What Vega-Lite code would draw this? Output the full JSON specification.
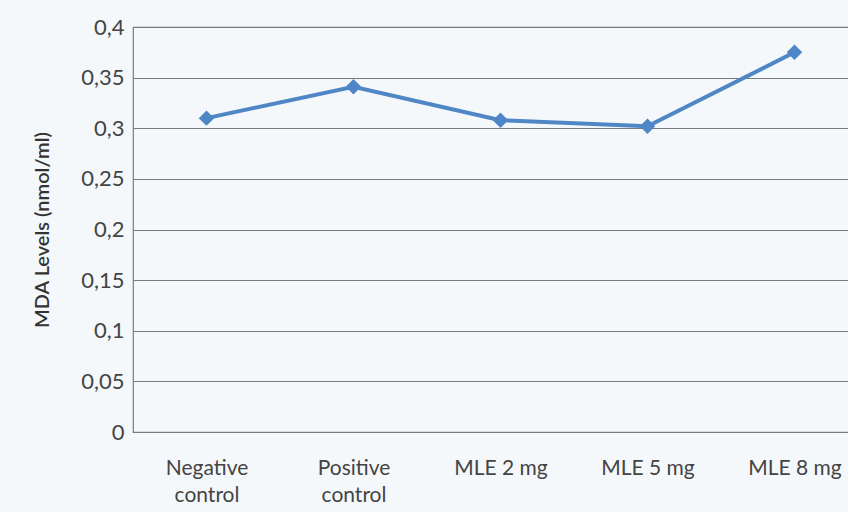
{
  "$schema": "https://vega.github.io/schema/vega-lite/v6.json",
  "width": 735,
  "height": 405,
  "autosize": {"type": "none"},
  "padding": {"left": 133, "top": 27, "right": 0, "bottom": 80},
  "background": "#f5f8fb",
  "config": {
    "font": "Lato",
    "view": {"stroke": "#7a7a7a", "strokeWidth": 1.2}
  },
  "data": {
    "values": [
      {"group": "Negative control", "mda": 0.310},
      {"group": "Positive control", "mda": 0.341},
      {"group": "MLE 2 mg", "mda": 0.308},
      {"group": "MLE 5 mg", "mda": 0.302},
      {"group": "MLE 8 mg", "mda": 0.375}
    ]
  },
  "encoding": {
    "x": {
      "field": "group",
      "type": "nominal",
      "sort": null,
      "scale": {"type": "point", "padding": 0.5},
      "axis": {
        "title": null,
        "labelAngle": 0,
        "domain": false,
        "ticks": false,
        "grid": false,
        "labelFontSize": 21,
        "labelColor": "#444",
        "labelPadding": 25,
        "labelLineHeight": 27,
        "labelExpr": "datum.label == 'Negative control' ? ['Negative', 'control'] : datum.label == 'Positive control' ? ['Positive', 'control'] : datum.label"
      }
    },
    "y": {
      "field": "mda",
      "type": "quantitative",
      "scale": {"domain": [0, 0.4], "nice": false},
      "axis": {
        "title": "MDA Levels (nmol/ml)",
        "titleFontSize": 20,
        "titleFontWeight": 600,
        "titleColor": "#333",
        "titlePadding": 28,
        "values": [0, 0.05, 0.1, 0.15, 0.2, 0.25, 0.3, 0.35, 0.4],
        "labelExpr": "replace(format(datum.value, '.2~f'), '.', ',')",
        "labelFontSize": 22,
        "labelColor": "#444",
        "labelPadding": 9,
        "ticks": false,
        "domain": false,
        "grid": true,
        "gridColor": "#7a7a7a",
        "gridWidth": 1.2
      }
    }
  },
  "layer": [
    {"mark": {"type": "line", "color": "#4f86c6", "strokeWidth": 4}},
    {"mark": {"type": "point", "shape": "diamond", "filled": true, "color": "#4f86c6", "opacity": 1, "size": 240}}
  ]
}
